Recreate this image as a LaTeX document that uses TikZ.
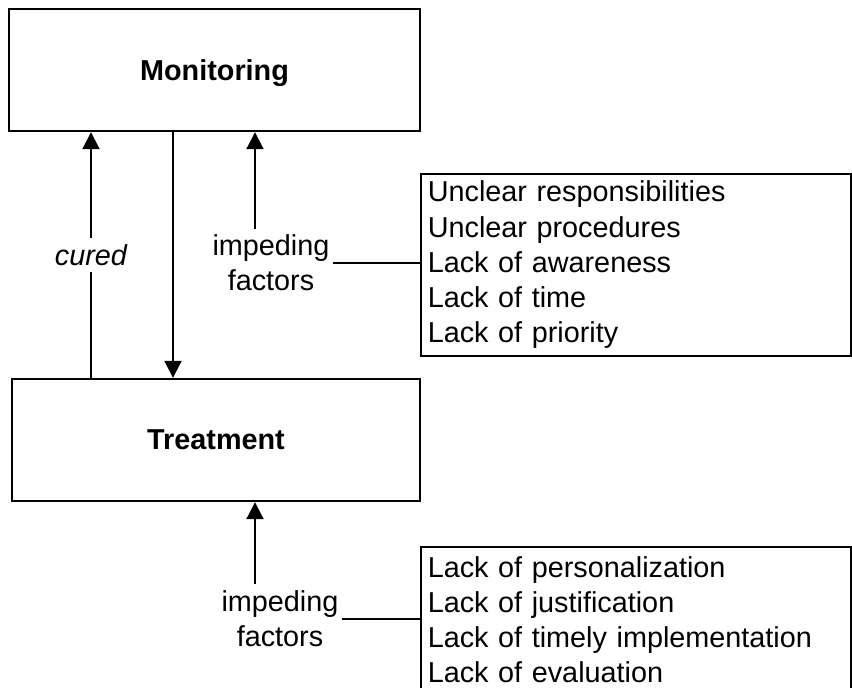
\documentclass[tikz,border=0pt]{standalone}
\usepackage{fontspec}
\setmainfont{Liberation Sans}
\usetikzlibrary{arrows.meta,calc}
\begin{document}
\begin{tikzpicture}[x=0.5pt,y=-0.5pt,
  base/.style={font=\fontsize{14.4}{17.6}\selectfont, inner sep=0pt},
  mainbox/.style={base, draw, line width=1.2pt, minimum height=61pt, text depth=0pt,
    font=\fontsize{14.4}{17.6}\selectfont\bfseries},
  listbox/.style={base, draw, line width=0.8pt, anchor=north west, align=left,
    text width=208pt, inner xsep=3.5pt, inner ysep=0pt},
  lbl/.style={base, align=center, inner sep=1.5pt},
  arr/.style={line width=1pt, -{Triangle[width=8.5pt,length=8.5pt]}},
  conn/.style={line width=0.8pt}]
\clip (0,0) rectangle (852,687);
\fill[white] (0,0) rectangle (852,687);
% main boxes
\node[mainbox, minimum width=205.5pt] (M) at (214.5,70) {Monitoring};
\node[mainbox, minimum width=204pt] (T) at (216,440) {Treatment};
% list boxes
\node[listbox, minimum height=91pt] (L1) at (420,173) {Unclear responsibilities\\Unclear procedures\\Lack of awareness\\Lack of time\\Lack of priority};
\node[listbox, minimum height=73pt] (L2) at (420,546) {Lack of personalization\\Lack of justification\\Lack of timely implementation\\Lack of evaluation};
% labels
\node[lbl] (F1) at (271,263) {impeding\\factors};
\node[lbl] (F2) at (280,619) {impeding\\factors};
% coordinates for arrow positions
\coordinate (cx) at (91,0);
\coordinate (dx) at (173,0);
\coordinate (s1) at (255,229);
\coordinate (s2) at (255,584);
% arrows
\draw[arr] (T.north -| cx) -- node[lbl, fill=white, inner ysep=3pt,
  font=\fontsize{14.4}{17.6}\selectfont\itshape] (C) {cured} (M.south -| cx);
\draw[arr] (M.south -| dx) -- (T.north -| dx);
\draw[arr] (s1) -- (s1 |- M.south);
\draw[arr] (s2) -- (s2 |- T.south);
% connectors to lists
\draw[conn] (F1.east) -- (F1.east -| L1.west);
\draw[conn] (F2.east) -- (F2.east -| L2.west);
\end{tikzpicture}
\end{document}
